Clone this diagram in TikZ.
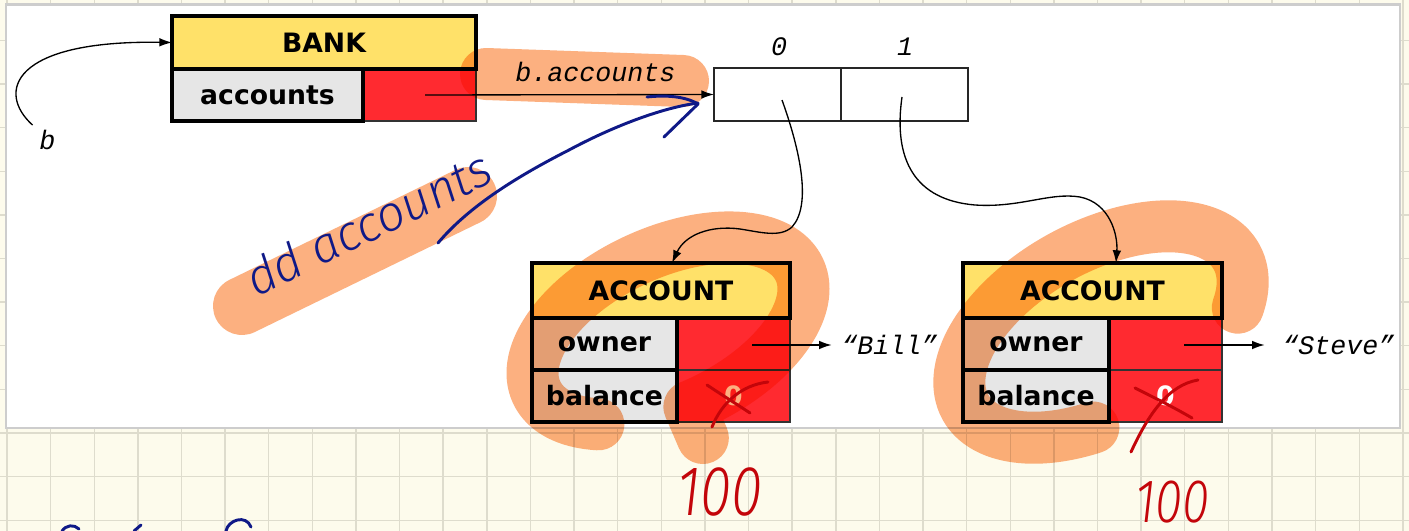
\documentclass[tikz,border=0pt]{standalone}
\usepackage{fontspec}
\setmainfont{DejaVu Sans}
\newfontfamily\boxfont{DejaVu Sans}
\newfontfamily\codefont{Liberation Mono}
\IfFontExistsTF{Fira Sans Light Italic}{\newfontfamily\handfont{Fira Sans Light Italic}}{%
  \IfFontExistsTF{DejaVu Sans ExtraLight}{\newfontfamily\handfont{DejaVu Sans ExtraLight}[FakeSlant=0.2]}{%
    \newfontfamily\handfont{Liberation Sans}[FakeSlant=0.2]}}
\usetikzlibrary{arrows.meta}
\definecolor{paper}{RGB}{253,251,236}
\definecolor{gridc}{RGB}{222,220,205}
\definecolor{panelborder}{RGB}{205,205,205}
\definecolor{hdryellow}{RGB}{255,225,105}
\definecolor{cellgray}{RGB}{230,230,230}
\definecolor{cellred}{RGB}{255,42,48}
\definecolor{hilite}{RGB}{252,176,128}
\definecolor{inkblue}{RGB}{15,25,135}
\definecolor{inkred}{RGB}{195,5,10}
\begin{document}
\begin{tikzpicture}[x=0.75pt,y=-0.75pt,
  gridline/.style={draw=gridc, line width=1.1pt},
  panel/.style={draw=panelborder, line width=2.2pt, fill=white},
  lbl/.style={font=\boxfont\bfseries\fontsize{20}{20}\selectfont, inner sep=0pt, outer sep=0pt},
  hdr/.style={lbl, draw=black, line width=3.4pt, fill=hdryellow},
  fieldbox/.style={lbl, draw=black, line width=3.4pt, fill=cellgray},
  valbox/.style={lbl, draw=black!80, line width=0.9pt, fill=cellred, text=white},
  cellbox/.style={draw=black!85, line width=0.9pt, fill=white, inner sep=0pt, outer sep=0pt},
  code/.style={font=\codefont\itshape\fontsize{20}{20}\selectfont, inner sep=0pt},
  ptr/.style={draw=black, line width=1pt, -{Latex[length=9.5pt,width=6.5pt]}},
  hl/.style={draw=hilite, line cap=round, line join=round},
  bluepen/.style={draw=inkblue, line width=2.2pt, line cap=round, line join=round},
  redpen/.style={draw=inkred, line width=2.2pt, line cap=round},
  bluehand/.style={font=\handfont\fontsize{37}{37}\selectfont, text=inkblue, inner sep=0pt},
  redhand/.style={font=\handfont\fontsize{53}{53}\selectfont, text=inkred, inner sep=0pt},
]
\useasboundingbox (0,0) rectangle (1409,531);
\fill[paper] (0,0) rectangle (1409,531);
\foreach \i in {0,...,32} \draw[gridline] ({7+43.62*\i},0) -- ({7+43.62*\i},531);
\foreach \j in {0,...,12} \draw[gridline] (0,{-3.2+43.62*\j}) -- (1409,{-3.2+43.62*\j});
\draw[panel] (6,4.5) rectangle (1400,428);

% BANK object
\node[valbox, minimum width=84.75pt, minimum height=39pt] (bankv) at (419.5,95) {};
\node[fieldbox, minimum width=143.25pt, minimum height=39pt] (bankf) at (267.5,95) {accounts};
\node[hdr, minimum width=228pt, minimum height=39.75pt] (bank) at (324,42.5) {BANK};

\node[code, anchor=base] (bname) at (47.5,150) {b};
\draw[ptr] ([shift={(-5pt,4pt)}]bname.north west) .. controls (-4,92) and (12,40) .. (bank.west);

% array
\node[cellbox, minimum width=95.25pt, minimum height=39.75pt] (cell0) at (777.5,94.5) {};
\node[cellbox, minimum width=95.25pt, minimum height=39.75pt] (cell1) at (904.5,94.5) {};
\node[code] (idx0) at (779,47) {0};
\node[code] (idx1) at (905,47) {1};
\node[code, anchor=base] (bacc) at (595.5,82) {b.accounts};
\coordinate (bankp) at (425,95);
\draw[ptr] (bankp) -- (cell0.west);

% ACCOUNT objects
\node[valbox, minimum width=84.75pt, minimum height=39pt] (ownv1) at (733.5,344) {};
\node[valbox, minimum width=84.75pt, minimum height=39pt] (balv1) at (733.5,396) {0};
\node[fieldbox, minimum width=108.75pt, minimum height=39pt] (own1) at (604.5,344) {owner};
\node[fieldbox, minimum width=108.75pt, minimum height=39pt] (bal1) at (604.5,396) {balance};
\node[hdr, minimum width=193.5pt, minimum height=41.25pt] (acch1) at (661,290.5) {ACCOUNT};

\node[valbox, minimum width=84.75pt, minimum height=39pt] (ownv2) at (1165.5,344) {};
\node[valbox, minimum width=84.75pt, minimum height=39pt] (balv2) at (1165.5,396) {0};
\node[fieldbox, minimum width=109.5pt, minimum height=39pt] (own2) at (1036,344) {owner};
\node[fieldbox, minimum width=109.5pt, minimum height=39pt] (bal2) at (1036,396) {balance};
\node[hdr, minimum width=194.25pt, minimum height=41.25pt] (acch2) at (1092.5,290.5) {ACCOUNT};

\coordinate (c0p) at (782,100);
\coordinate (c1p) at (902,97);
\draw[ptr] (c0p) .. controls (800,150) and (812,205) .. (792,227) .. controls (780,238) and (760,232) .. (740,229) .. controls (710,225) and (685,235) .. ([xshift=8.25pt]acch1.north);
\draw[ptr] (c1p) .. controls (893,160) and (915,200) .. (975,205) .. controls (1020,208) and (1050,192) .. (1080,197) .. controls (1110,203) and (1118,235) .. ([xshift=17.6pt]acch2.north);

\coordinate (o1p) at (752,345);
\node[code, anchor=west] (bill) at (841,345) {“Bill”};
\draw[ptr] (o1p) -- ([xshift=-7pt]bill.west);
\coordinate (o2p) at (1184,345);
\node[code, anchor=west] (steve) at (1282,345) {“Steve”};
\draw[ptr] (o2p) -- ([xshift=-13pt]steve.west);

% highlighter
\begin{scope}[blend mode=multiply]
\draw[hl, line width=39pt] (486,74) -- (683,81);
\draw[hl, line width=43.5pt] (242,306) -- (468,196);
\begin{scope}[shift={(668,331)}, rotate=25]
\draw[hl, line width=39pt] (135:145 and 78) arc[start angle=135, end angle=455, x radius=145, y radius=78] -- ++(-1,34);
\end{scope}
\begin{scope}[shift={(1101,332)}, rotate=29]
\draw[hl, line width=39pt] (110:155 and 85) arc[start angle=110, end angle=392, x radius=155, y radius=85];
\end{scope}
\end{scope}

% blue ink
\draw[bluepen] (438,243) .. controls (470,205) and (520,175) .. (569,150) .. controls (610,128) and (660,108) .. (698,103);
\draw[bluepen] (647,97) .. controls (665,95) and (685,96) .. (698,104) -- (664,137);
\node[bluehand, rotate=26, anchor=base west] (oldacc) at (256,298) {dd accounts};
\draw[bluepen] (62,531) .. controls (66,525) and (74,524) .. (79,529);
\draw[bluepen] (134,531) -- (141,525);
\draw[bluepen] (226,531) .. controls (228,520) and (246,514) .. (251,527);

% red ink
\draw[redpen] (707,385) .. controls (722,395) and (738,405) .. (750,413);
\draw[redpen] (712,427) .. controls (722,402) and (742,385) .. (768,382);
\draw[redpen] (1135,388) .. controls (1155,398) and (1175,408) .. (1192,418);
\draw[redpen] (1131,452) .. controls (1148,415) and (1168,385) .. (1198,380);
\node[redhand, xscale=0.8] (hundred1) at (720,492) {100};
\node[redhand, scale=0.87, xscale=0.8] (hundred2) at (1172,502) {100};
\end{tikzpicture}
\end{document}
